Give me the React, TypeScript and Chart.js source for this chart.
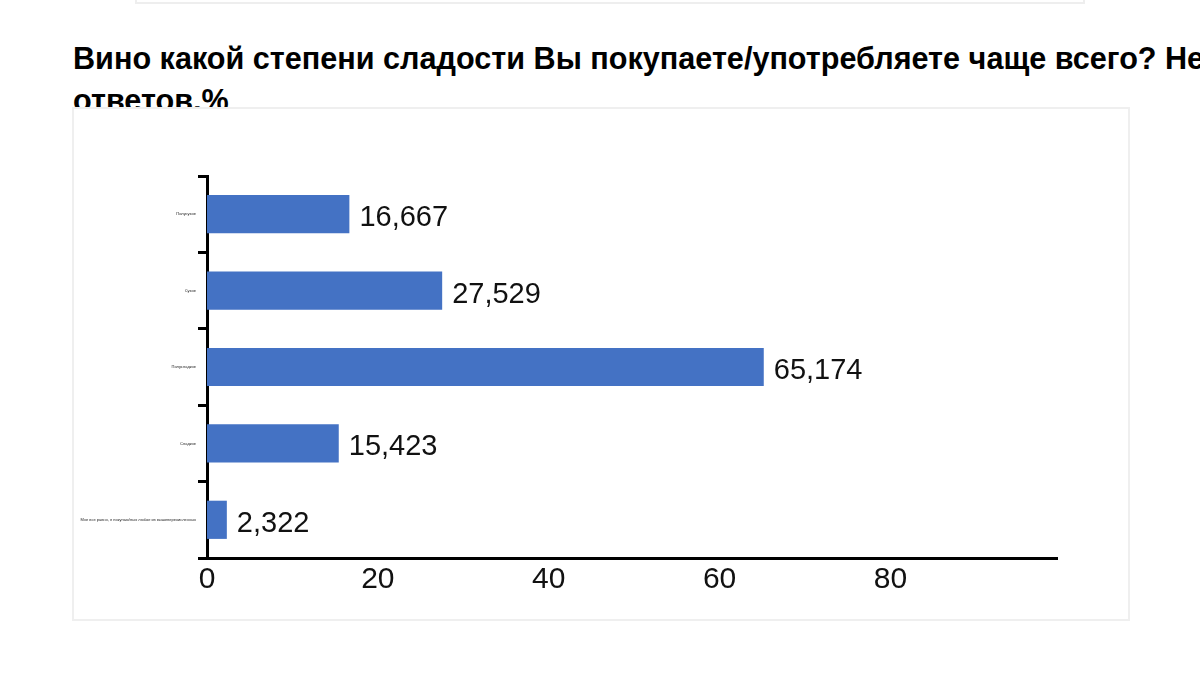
import React, { useEffect, useRef } from "react";
import { Chart, registerables } from "chart.js";

Chart.register(...registerables);

const categories = [
  "Полусухое",
  "Сухое",
  "Полусладкое",
  "Сладкое",
  "Мне все равно, я покупаю/пью любое из вышеперечисленных",
];
const values = [16.667, 27.529, 65.174, 15.423, 2.322];
const valueLabels = ["16,667", "27,529", "65,174", "15,423", "2,322"];
const xTicks = [0, 20, 40, 60, 80];
const titleLine1 =
  "Вино какой степени сладости Вы покупаете/употребляете чаще всего? Несколько вариантов";
const titleLine2 = "ответов,%";

const FONT = "'Liberation Sans', Arial, sans-serif";

const valueLabelPlugin = {
  id: "valueLabels",
  afterDatasetsDraw(chart: any) {
    const ctx = chart.ctx;
    const meta = chart.getDatasetMeta(0);
    ctx.save();
    ctx.font = `29px ${FONT}`;
    ctx.fillStyle = "#111";
    ctx.textAlign = "left";
    ctx.textBaseline = "middle";
    meta.data.forEach((bar: any, i: number) => {
      ctx.fillText(valueLabels[i], bar.x + 10, bar.y + 4);
    });
    ctx.restore();
  },
};

export default function App() {
  const canvasRef = useRef<HTMLCanvasElement | null>(null);

  useEffect(() => {
    if (!canvasRef.current) return;
    const chart = new Chart(canvasRef.current, {
      type: "bar",
      data: {
        labels: categories,
        datasets: [
          {
            data: values,
            backgroundColor: "#4472C4",
            borderWidth: 0,
            barPercentage: 0.5,
            categoryPercentage: 1,
          },
        ],
      },
      options: {
        indexAxis: "y",
        animation: false,
        responsive: false,
        maintainAspectRatio: false,
        layout: { padding: { top: 67, right: 71, left: 0, bottom: 0 } },
        plugins: {
          legend: { display: false },
          tooltip: { enabled: false },
          title: { display: false },
        },
        scales: {
          x: {
            type: "linear",
            min: 0,
            max: 99.5,
            afterBuildTicks: (s: any) => {
              s.ticks = xTicks.map((v) => ({ value: v }));
            },
            afterFit: (s: any) => {
              s.height = 61;
            },
            grid: { display: false, drawTicks: false },
            border: { display: true, color: "#000", width: 3 },
            ticks: {
              color: "#111",
              font: { family: FONT, size: 30 },
              padding: 4,
              maxRotation: 0,
            },
          },
          y: {
            type: "category",
            afterFit: (s: any) => {
              s.width = 133;
            },
            grid: {
              display: true,
              drawOnChartArea: false,
              drawTicks: true,
              tickLength: 9,
              color: "#000",
              lineWidth: 3,
              offset: true,
            },
            border: { display: true, color: "#000", width: 3 },
            ticks: {
              color: "#222",
              font: { family: FONT, size: 4 },
              padding: 2,
              autoSkip: false,
            },
          },
        },
      },
      plugins: [valueLabelPlugin],
    } as any);
    return () => chart.destroy();
  }, []);

  return (
    <div
      style={{
        position: "fixed",
        left: 0,
        top: 0,
        width: 1200,
        height: 696,
        background: "#fff",
        overflow: "hidden",
      }}
    >
      <div
        style={{
          position: "absolute",
          left: 135,
          top: -20,
          width: 946,
          height: 20,
          border: "2px solid #eeeeee",
          background: "#fff",
        }}
      />
      <div
        style={{
          position: "absolute",
          left: 73,
          top: 37,
          width: 1600,
          fontFamily: FONT,
          fontWeight: "bold",
          fontSize: 30.6,
          lineHeight: "42px",
          color: "#000",
          whiteSpace: "nowrap",
        }}
      >
        <div>{titleLine1}</div>
        <div>{titleLine2}</div>
      </div>
      <div
        style={{
          position: "absolute",
          left: 72,
          top: 107,
          width: 1058,
          height: 514,
          boxSizing: "border-box",
          border: "2px solid #efefef",
          background: "#fff",
        }}
      >
        <canvas
          ref={canvasRef}
          width={1054}
          height={510}
          style={{ display: "block", width: 1054, height: 510 }}
        />
      </div>
    </div>
  );
}
